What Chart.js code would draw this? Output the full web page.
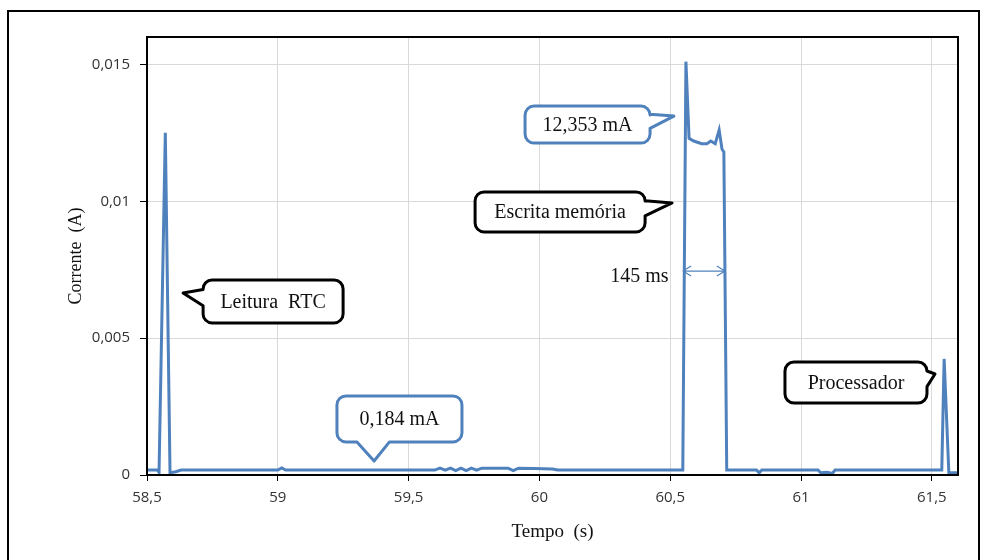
<!DOCTYPE html>
<html>
<head>
<meta charset="utf-8">
<script src="https://cdn.jsdelivr.net/npm/chart.js@4.4.1/dist/chart.umd.min.js"></script>
<style>
    html, body { margin: 0; padding: 0; background: #fff; }
    #frame { position: absolute; left: 7px; top: 10px; width: 973px; height: 600px; border: 2px solid #000; box-sizing: border-box; }
    canvas { position: absolute; left: 0; top: 0; }
</style>
</head>
<body>
<div id="frame"></div>
<canvas id="chart" width="987" height="560"></canvas>
<script>
// tempo (s)
const timeValues = [
    58.5, 58.54, 58.546, 58.57, 58.588, 58.61, 58.63,
    59.0, 59.015, 59.03,
    59.6, 59.62, 59.64, 59.66, 59.68, 59.7, 59.72, 59.74, 59.76, 59.78, 59.88, 59.9, 59.92, 59.98, 60.05, 60.07,
    60.548, 60.56, 60.572, 60.59, 60.62, 60.64, 60.655, 60.672, 60.687, 60.698, 60.705, 60.716,
    60.83, 60.84, 60.85, 61.065, 61.075, 61.1, 61.12, 61.13,
    61.538, 61.547, 61.565, 61.6
];
// corrente (A)
const currentValues = [
    0.00018, 0.00018, 0.0001, 0.0125, 0.00008, 0.00012, 0.00018,
    0.00018, 0.00026, 0.00018,
    0.00018, 0.00025, 0.00018, 0.00025, 0.00016, 0.00025, 0.00016, 0.00025, 0.00018, 0.00025, 0.00025, 0.00016, 0.00025, 0.00024, 0.00022, 0.00018,
    0.00018, 0.0151, 0.0123, 0.0122, 0.0121, 0.0121, 0.0122, 0.0121, 0.0126, 0.0119, 0.0118, 0.00018,
    0.00018, 0.00008, 0.00018, 0.00018, 0.00008, 0.0001, 0.00006, 0.00018,
    0.00018, 0.00424, 0.00008, 0.00008
];
const xTicks = [58.5, 59, 59.5, 60, 60.5, 61, 61.5];
const yTicks = [0, 0.005, 0.01, 0.015];

const lineColor = '#4f81bd';

// callouts: tip and box centre in data units, box size in px
const callouts = [
    {text: 'Leitura  RTC', cx: 58.982, cy: 0.00634, w: 140, h: 43, tipX: 58.638, tipY: 0.00665, side: 'left', color: '#000'},
    {text: '0,184 mA', cx: 59.465, cy: 0.00205, w: 125, h: 46, tipX: 59.368, tipY: 0.00051, side: 'bottom', color: lineColor},
    {text: '12,353 mA', cx: 60.184, cy: 0.0128, w: 125, h: 37, tipX: 60.514, tipY: 0.01311, side: 'right', color: lineColor},
    {text: 'Escrita memória', cx: 60.079, cy: 0.00961, w: 170, h: 40, tipX: 60.507, tipY: 0.00994, side: 'right', color: '#000'},
    {text: 'Processador', cx: 61.21, cy: 0.00338, w: 142, h: 41, tipX: 61.512, tipY: 0.00369, side: 'right', color: '#000'}
];
const durationLabel = {text: '145 ms', x: 60.382, y: 0.00723, from: 60.549, to: 60.709, arrowY: 0.00745};

const fmt = v => String(v).replace('.', ',');

function calloutPath(ctx, x, y, w, h, r, side, tx, ty) {
    const a = 0.22, b = 0.6;
    ctx.beginPath();
    ctx.moveTo(x + r, y);
    ctx.lineTo(x + w - r, y);
    ctx.arcTo(x + w, y, x + w, y + r, r);
    if (side === 'right') {
        ctx.lineTo(x + w, y + h * a);
        ctx.lineTo(tx, ty);
        ctx.lineTo(x + w, y + h * b);
    }
    ctx.lineTo(x + w, y + h - r);
    ctx.arcTo(x + w, y + h, x + w - r, y + h, r);
    if (side === 'bottom') {
        ctx.lineTo(x + w * 0.42, y + h);
        ctx.lineTo(tx, ty);
        ctx.lineTo(x + w * 0.16, y + h);
    }
    ctx.lineTo(x + r, y + h);
    ctx.arcTo(x, y + h, x, y + h - r, r);
    if (side === 'left') {
        ctx.lineTo(x, y + h * b);
        ctx.lineTo(tx, ty);
        ctx.lineTo(x, y + h * a);
    }
    ctx.lineTo(x, y + r);
    ctx.arcTo(x, y, x + r, y, r);
    ctx.closePath();
}

const decorations = {
    id: 'decorations',
    afterDraw(chart) {
        const ctx = chart.ctx;
        const xs = chart.scales.x, ys = chart.scales.y;
        const area = chart.chartArea;
        ctx.save();
        ctx.strokeStyle = '#000';
        ctx.lineWidth = 2;
        ctx.strokeRect(area.left, area.top, area.right - area.left, area.bottom - area.top);

        ctx.font = '20px "Liberation Serif", "Times New Roman", serif';
        ctx.textAlign = 'center';
        ctx.textBaseline = 'middle';
        callouts.forEach(c => {
            const px = xs.getPixelForValue(c.cx), py = ys.getPixelForValue(c.cy);
            const tx = xs.getPixelForValue(c.tipX), ty = ys.getPixelForValue(c.tipY);
            calloutPath(ctx, px - c.w / 2, py - c.h / 2, c.w, c.h, 9, c.side, tx, ty);
            ctx.fillStyle = '#fff';
            ctx.fill();
            ctx.lineWidth = 3;
            ctx.lineJoin = 'round';
            ctx.strokeStyle = c.color;
            ctx.stroke();
            ctx.fillStyle = '#111';
            ctx.fillText(c.text, px, py + 1);
        });

        // 145 ms arrow
        const x1 = xs.getPixelForValue(durationLabel.from);
        const x2 = xs.getPixelForValue(durationLabel.to);
        const ay = ys.getPixelForValue(durationLabel.arrowY);
        ctx.strokeStyle = lineColor;
        ctx.lineWidth = 1.2;
        ctx.beginPath();
        ctx.moveTo(x1, ay); ctx.lineTo(x2, ay);
        ctx.moveTo(x1 + 8, ay - 5); ctx.lineTo(x1, ay); ctx.lineTo(x1 + 8, ay + 5);
        ctx.moveTo(x2 - 8, ay - 5); ctx.lineTo(x2, ay); ctx.lineTo(x2 - 8, ay + 5);
        ctx.stroke();
        ctx.fillStyle = '#111';
        ctx.fillText(durationLabel.text, xs.getPixelForValue(durationLabel.x), ys.getPixelForValue(durationLabel.y));
        ctx.restore();
    }
};

const points = timeValues.map((t, i) => ({x: t, y: currentValues[i]}));

new Chart(document.getElementById('chart'), {
    type: 'line',
    data: {
        datasets: [{
            data: points,
            borderColor: lineColor,
            borderWidth: 3,
            pointRadius: 0,
            tension: 0,
            fill: false
        }]
    },
    options: {
        responsive: false,
        animation: false,
        layout: {padding: {left: 65, right: 29, top: 37, bottom: 0}},
        plugins: {
            legend: {display: false},
            tooltip: {enabled: false}
        },
        scales: {
            x: {
                type: 'linear',
                min: 58.5,
                max: 61.6,
                afterBuildTicks: s => { s.ticks = xTicks.map(v => ({value: v})); },
                afterFit: s => { s.height = 85; },
                grid: {color: '#d9d9d9', tickColor: '#000', tickLength: 6},
                border: {color: '#000', width: 2},
                ticks: {
                    padding: 8,
                    maxRotation: 0,
                    color: '#333',
                    font: {family: '"Open Sans", sans-serif', size: 15},
                    callback: v => fmt(v)
                },
                title: {
                    display: true,
                    text: 'Tempo  (s)',
                    color: '#111',
                    padding: {top: 4, bottom: 17},
                    font: {family: '"Liberation Serif", serif', size: 19}
                }
            },
            y: {
                min: 0,
                max: 0.016,
                afterBuildTicks: s => { s.ticks = yTicks.map(v => ({value: v})); },
                afterFit: s => { s.width = 82; },
                grid: {color: '#d9d9d9', tickColor: '#000', tickLength: 7},
                border: {color: '#000', width: 2},
                ticks: {
                    padding: 10,
                    color: '#333',
                    font: {family: '"Open Sans", sans-serif', size: 15},
                    callback: v => fmt(v)
                },
                title: {
                    display: true,
                    text: 'Corrente  (A)',
                    color: '#111',
                    padding: 0,
                    font: {family: '"Liberation Serif", serif', size: 18}
                }
            }
        }
    },
    plugins: [decorations]
});
</script>
</body>
</html>
